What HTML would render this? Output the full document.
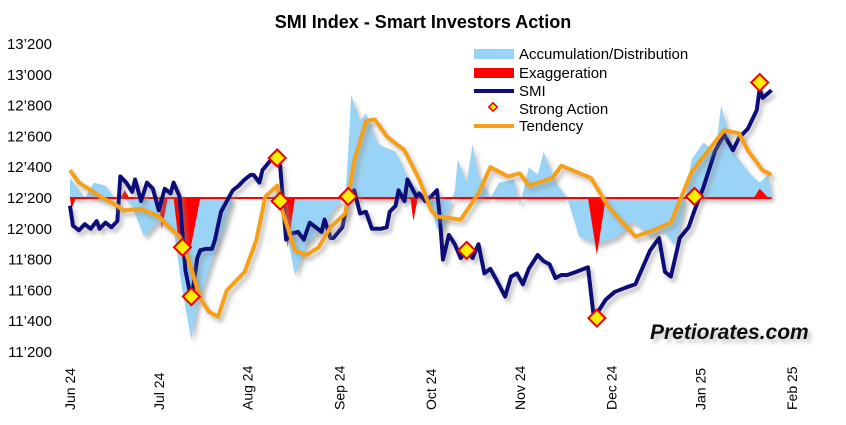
<!DOCTYPE html>
<html><head><meta charset="utf-8"><style>
body{margin:0;background:#fff;width:846px;height:420px;overflow:hidden;font-family:"Liberation Sans",Arial,sans-serif}
svg text{font-family:"Liberation Sans",Arial,sans-serif}
</style></head><body>
<svg id="chart" width="846" height="420" viewBox="0 0 846 420" xmlns="http://www.w3.org/2000/svg">
<defs>
<filter id="sh" x="-10%" y="-10%" width="120%" height="130%"><feDropShadow dx="3" dy="4" stdDeviation="2" flood-color="#888" flood-opacity="0.55"/></filter>
</defs>
<text x="423" y="28" text-anchor="middle" font-size="18" font-weight="bold">SMI Index - Smart Investors Action</text>
<g id="yaxis"></g>
<g id="xaxis"></g>
<g id="plot"></g>
<g font-size="15">
<rect x="474" y="49" width="40" height="10" fill="#99d3f5"/>
<text x="519" y="59">Accumulation/Distribution</text>
<rect x="474" y="68" width="40" height="10" fill="#ff0000"/>
<text x="519" y="78">Exaggeration</text>
<line x1="474" y1="91" x2="514" y2="91" stroke="#0d0d7a" stroke-width="4"/>
<text x="519" y="96">SMI</text>
<rect x="490" y="104" width="6" height="6" fill="#ffee00" stroke="#e00" stroke-width="1.5" transform="rotate(45 493 107)"/>
<text x="519" y="114">Strong Action</text>
<line x1="474" y1="126" x2="514" y2="126" stroke="#f5a015" stroke-width="4"/>
<text x="519" y="131">Tendency</text>
</g>
<text x="650" y="339" font-size="21" font-weight="bold" font-style="italic" fill="#111" filter="url(#sh)">Pretiorates.com</text>
</svg>
<script>
const yTicks=[11200,11400,11600,11800,12000,12200,12400,12600,12800,13000,13200];
const yTickLabels=["11’200","11’400","11’600","11’800","12’000","12’200","12’400","12’600","12’800","13’000","13’200"];
const monthDays=[0,30,60,91,122,152,183,213,244];
const monthLabels=["Jun 24","Jul 24","Aug 24","Sep 24","Oct 24","Nov 24","Dec 24","Jan 25","Feb 25"];
const baseline=12200;
const smiDays=[0,1,3,5,7,9,10,12,14,16,17,19,21,22,24,26,28,30,32,34,35,37,39,41,43,44,46,48,49,51,53,55,57,59,61,62,64,65,68,70,71,73,75,77,79,81,83,85,86,88,89,92,94,96,98,100,102,105,107,108,110,111,113,114,117,118,120,122,124,125,126,128,130,132,134,136,138,140,142,144,147,149,151,153,155,158,160,162,164,166,168,171,175,177,181,184,188,191,196,199,201,203,206,209,211,214,218,221,224,226,229,232,233,234,237];
const smiValues=[12150,12020,11990,12030,12000,12050,12000,12040,12010,12050,12340,12300,12240,12320,12180,12300,12260,12120,12260,12230,12300,12210,11730,11540,11810,11860,11870,11870,11930,12110,12180,12250,12280,12320,12350,12350,12300,12380,12450,12450,12410,11930,11970,11980,11930,12040,12010,11980,12060,11940,11940,12010,12190,12250,12100,12110,12000,12000,12010,12110,12150,12250,12180,12320,12210,12230,12180,12210,12250,12060,11800,11960,11900,11810,11860,11810,11900,11710,11740,11670,11560,11690,11710,11640,11740,11830,11790,11770,11680,11700,11700,11720,11750,11420,11540,11590,11620,11640,11860,11940,11720,11690,11940,12010,12120,12270,12510,12610,12510,12590,12650,12770,12910,12850,12900];
const tenDays=[0,3,7,11,16,18,24,30,34,37,40,44,47,50,53,59,63,66,70,72,76,80,84,88,93,96,100,103,107,113,118,122,124,132,138,142,148,152,155,163,166,176,182,191,197,203,210,221,226,229,234,237];
const tenValues=[12380,12300,12250,12200,12150,12120,12130,12080,12000,11950,11800,11550,11460,11430,11600,11720,11930,12210,12280,12100,11860,11830,11880,12010,12100,12440,12700,12710,12600,12510,12320,12120,12080,12060,12230,12400,12340,12360,12280,12330,12410,12330,12140,11950,11990,12040,12370,12640,12620,12510,12380,12350];
const adDays=[0,3,5,8,12,15,18,21,25,30,35,38,41,43,48,52,55,60,70,72,74,76,80,85,90,93,94,95,98,100,104,110,115,120,122,124,126,130,131,134,136,138,142,145,150,152,155,158,160,164,168,172,178,185,190,196,200,204,206,208,210,214,218,220,224,230,233,236,237];
const adValues=[12330,12250,12200,12300,12280,12200,12200,12150,11950,12050,12000,11600,11280,11500,11800,12000,12200,12200,12200,12100,11900,11700,11900,12000,12150,12200,12500,12870,12700,12750,12550,12500,12300,12200,12150,12000,12000,12250,12450,12300,12550,12350,12200,12300,12320,12150,12400,12350,12500,12300,12200,11950,11900,11950,12050,11950,12000,11900,12000,12200,12450,12560,12500,12800,12500,12350,12300,12350,12200];
const exDays=[0,0.5,2,null,17,18.5,20,null,30,31,33,null,35,36.5,39,41,44,null,72,73.5,76,null,115,116,117.5,null,175,178,181,null,209,211,214,null,231,233,236];
const exValues=[12200,12130,12200,null,12200,12250,12200,null,12200,12000,12200,null,12200,11950,11830,11900,12200,null,12200,11880,12200,null,12200,12050,12200,null,12200,11830,12200,null,12200,12260,12200,null,12200,12260,12200];
const actDays=[38,41,70,71,94,134,178,211,233];
const actValues=[11880,11560,12460,12180,12210,11860,11420,12210,12950];

const NS="http://www.w3.org/2000/svg";
const X=d=>70+d*2.96;
const Y=v=>352-(v-11200)*0.154;
function mk(tag,attrs,parent){const e=document.createElementNS(NS,tag);for(const k in attrs)e.setAttribute(k,attrs[k]);parent.appendChild(e);return e;}
const ya=document.getElementById('yaxis'),xa=document.getElementById('xaxis'),plot=document.getElementById('plot');
yTicks.forEach((v,i)=>{const t=mk('text',{x:52,y:Y(v)+5,'text-anchor':'end','font-size':'15'},ya);t.textContent=yTickLabels[i];

});
monthDays.forEach((d,i)=>{const x=X(d)+5,y=410;const t=mk('text',{x:x,y:y,transform:`rotate(-90 ${x} ${y})`,'font-size':'14'},xa);t.textContent=monthLabels[i];

});
// accumulation area
let p=`M${X(adDays[0])},${Y(baseline)}`;adDays.forEach((d,i)=>p+=`L${X(d)},${Y(adValues[i])}`);p+=`L${X(adDays[adDays.length-1])},${Y(baseline)}Z`;
const ad=mk('path',{d:p,fill:'#99d3f5',filter:'url(#sh)'},plot);


// exaggeration
let ep='',start=true;exDays.forEach((d,i)=>{if(d===null){ep+='Z';start=true;return;}ep+=(start?'M':'L')+X(d)+','+Y(exValues[i]);start=false;});ep+='Z';
const ex=mk('path',{d:ep,fill:'#ff0000'},plot);


const bl=mk('line',{x1:X(0),x2:X(237),y1:Y(baseline),y2:Y(baseline),stroke:'#ff0000','stroke-width':2},plot);


const smi=mk('polyline',{points:smiDays.map((d,i)=>X(d)+','+Y(smiValues[i])).join(' '),fill:'none',stroke:'#0d0d7a','stroke-width':4,'stroke-linejoin':'round',filter:'url(#sh)'},plot);


const ten=mk('polyline',{points:tenDays.map((d,i)=>X(d)+','+Y(tenValues[i])).join(' '),fill:'none',stroke:'#f5a015','stroke-width':4,'stroke-linejoin':'round',filter:'url(#sh)'},plot);


actDays.forEach((d,i)=>{const x=X(d),y=Y(actValues[i]);const r=mk('rect',{x:x-6,y:y-6,width:12,height:12,fill:'#ffee00',stroke:'#e00','stroke-width':2,transform:`rotate(45 ${x} ${y})`},plot);

});
</script>
</body></html>
